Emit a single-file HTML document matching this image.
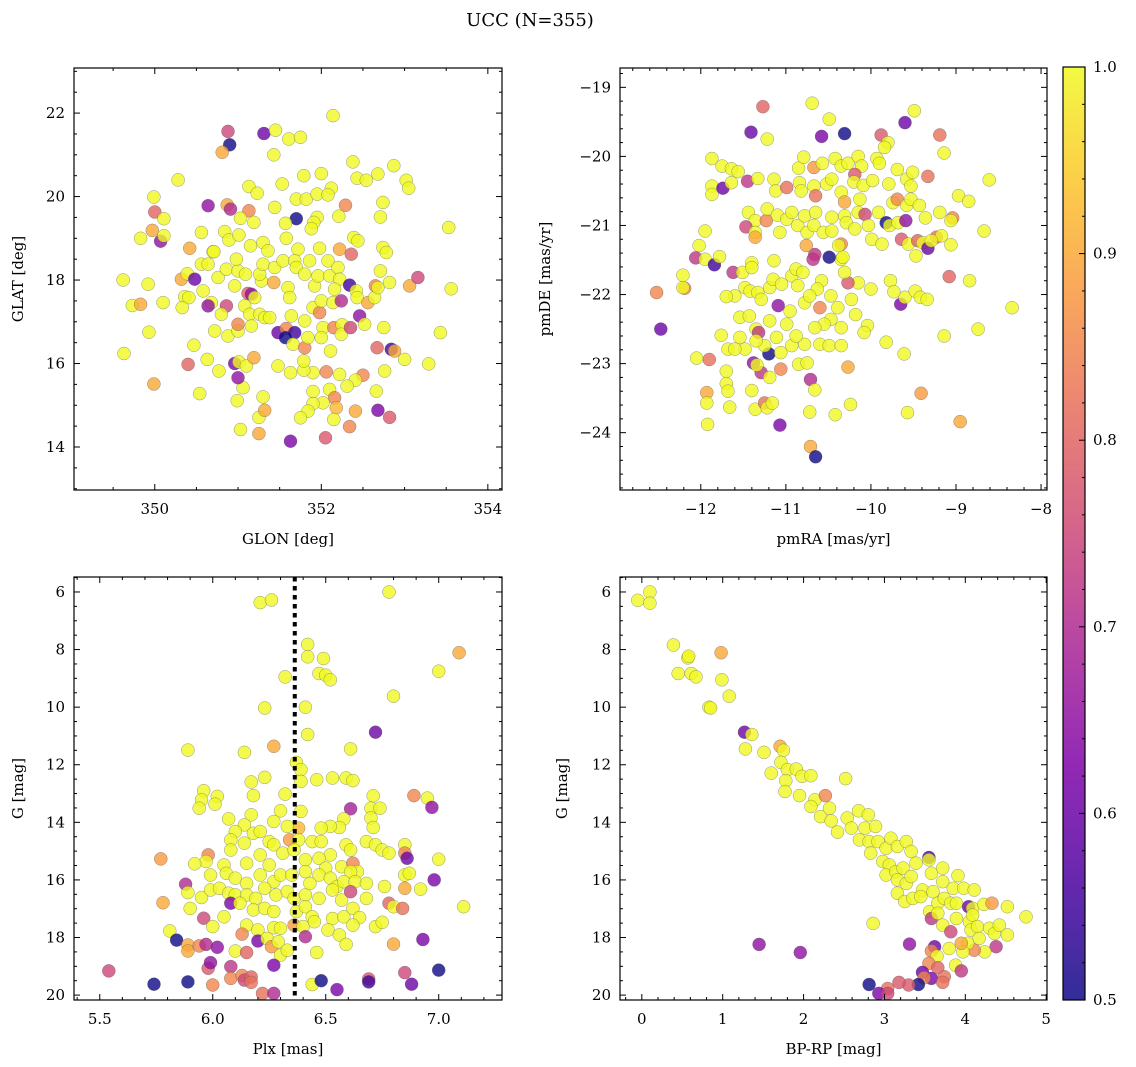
<!DOCTYPE html>
<html><head><meta charset="utf-8"><title>UCC (N=355)</title>
<style>
html,body{margin:0;padding:0;background:#fff;}
svg{display:block;font-family:"DejaVu Serif","Liberation Serif",serif;}
</style></head>
<body>
<svg id="fig" width="1136" height="1067" viewBox="0 0 1136 1067" xmlns="http://www.w3.org/2000/svg">
<text x="530" y="26" text-anchor="middle" font-size="18" fill="#000">UCC (N=355)</text>
</svg>
<script>
// ---------- Panel 1: GLON vs GLAT ----------
const glon1=[352.14,350.88,351.31,351.45,350.90,350.81,351.61,351.75,351.43,352.38,352.87,350.28,351.79,352.0,352.43,352.54,352.68,353.02,353.05,351.53,351.13,351.23,349.99,350.64,350.87,350.91,351.13,351.44,351.7,351.82,351.95,352.12,352.08,351.7,352.29,352.74,352.71,352.21,351.95,351.91,351.88,350.0,350.11,349.97,349.83,350.07,350.11,350.56,351.03,351.19,350.84,350.89,351.01,351.57,351.58,350.42,350.7,351.15,351.3,351.36,351.72,351.98,352.22,352.39,352.44,352.36,352.74,352.78,353.53,349.62,349.92,349.73,349.83,350.1,349.93,349.63,349.99,350.32,350.39,350.48,350.36,350.41,350.33,350.56,350.64,350.71,350.58,350.68,350.64,350.86,350.8,350.72,350.88,351.0,351.0,350.76,350.86,351.0,350.98,350.96,351.09,351.12,351.16,351.2,351.08,351.14,351.16,351.26,351.32,351.38,351.28,351.26,351.3,351.44,351.43,351.54,351.68,351.7,351.8,351.86,351.6,351.62,351.64,351.48,351.58,351.68,351.57,351.66,351.8,351.84,351.8,351.9,351.98,352.0,351.92,351.96,352.08,352.1,352.2,352.22,352.16,352.14,352.24,352.02,352.0,352.15,352.25,352.24,352.35,352.34,352.42,352.43,352.46,352.52,352.56,352.64,352.65,352.68,352.71,352.82,353.06,353.16,353.56,353.43,352.75,352.67,352.84,352.88,353.0,353.29,352.76,352.66,352.68,352.82,352.41,352.34,352.5,352.41,352.31,352.22,352.06,352.11,351.9,351.79,351.79,351.63,351.48,351.9,352.1,352.16,352.02,351.9,351.84,352.18,352.15,351.75,352.05,351.63,351.25,351.03,351.25,351.32,351.3,350.99,351.06,351.0,350.96,351.01,351.1,351.19,350.54,350.4,350.63,350.77,350.47];
const glat1=[21.94,21.56,21.51,21.59,21.24,21.06,21.38,21.42,21.0,20.83,20.74,20.4,20.5,20.55,20.44,20.39,20.54,20.39,20.2,20.3,20.24,20.08,19.99,19.78,19.8,19.7,19.66,19.74,19.94,19.94,20.06,20.2,20.04,19.47,19.79,19.86,19.51,19.53,19.5,19.38,19.23,19.63,19.47,19.19,19.0,18.93,19.06,19.14,19.48,19.38,19.16,18.96,19.08,19.36,19.0,18.76,18.68,18.82,18.9,18.7,18.74,18.76,18.74,19.02,18.94,18.62,18.78,18.66,19.26,18.0,17.9,17.39,17.42,17.46,16.75,16.24,15.51,18.02,18.15,18.02,17.6,17.58,17.34,18.38,18.38,18.68,17.74,17.46,17.38,17.38,17.18,16.78,16.66,16.78,16.94,18.06,18.26,18.22,18.5,17.86,18.14,17.68,17.66,17.58,17.38,17.18,16.9,17.18,17.1,17.1,17.98,18.14,18.38,18.3,17.94,18.46,18.46,18.3,18.14,18.46,17.82,17.58,17.14,16.74,16.84,16.74,16.62,16.46,16.38,16.62,17.02,17.34,17.22,17.5,17.86,18.1,18.46,18.1,18.3,18.02,17.78,17.46,17.5,16.86,16.62,16.86,16.93,16.7,16.86,17.88,17.74,17.58,17.14,16.94,17.46,17.58,17.86,17.82,18.22,17.94,17.86,18.06,17.79,16.74,16.86,16.38,16.34,16.3,16.1,15.99,15.82,15.34,14.88,14.71,14.86,14.49,15.72,15.6,15.46,15.74,15.8,16.3,15.78,15.84,16.06,15.78,15.94,15.33,15.38,15.18,15.06,15.04,14.86,14.94,14.66,14.7,14.22,14.14,14.32,14.42,14.71,14.88,15.2,15.11,15.42,15.66,16.0,16.04,15.94,16.14,15.28,15.98,16.1,15.82,16.44];
const prob1=[1,.75,.6,1,.5,.9,1,1,1,1,1,1,1,1,1,1,1,1,1,1,1,1,1,.65,.9,.7,.85,1,1,1,1,1,1,.5,.85,1,1,1,1,1,1,.8,1,.9,1,.65,1,1,1,1,1,1,1,1,1,.9,1,1,1,1,1,1,.9,1,1,.8,1,1,1,1,1,1,.9,1,1,1,.9,.9,1,.6,1,1,1,1,1,1,1,1,.65,.75,1,1,1,1,.85,1,1,1,1,1,1,.8,.65,1,1,1,1,1,1,1,1,1,1,1,.9,1,1,1,1,1,1,1,1,.6,.85,.55,.5,1,.85,1,1,1,.85,1,1,1,1,1,1,1,1,1,.7,1,1,.85,1,1,.75,.55,1,1,.65,1,.9,1,.85,1,1,1,.9,.75,1,1,1,.8,.55,.9,1,1,1,1,.62,.78,.9,.85,.85,1,1,1,.85,1,1,1,1,1,1,1,1,.85,1,1,1,.92,1,1,.78,.62,.9,1,1,.9,1,1,1,.65,.62,1,1,.9,1,.8,1,1];
// ---------- Panel 2: pmRA vs pmDE ----------
const pmra2=[-11.27,-10.69,-10.49,-9.49,-9.6,-11.41,-11.22,-10.58,-10.31,-9.88,-9.8,-9.84,-9.19,-9.14,-11.87,-11.75,-11.64,-11.56,-11.87,-11.87,-11.74,-11.64,-11.45,-11.33,-11.14,-11.12,-10.99,-10.85,-10.79,-10.67,-10.57,-10.42,-10.35,-10.27,-10.15,-10.11,-9.93,-9.9,-9.69,-10.19,-10.2,-10.09,-9.98,-9.79,-9.58,-9.51,-9.53,-9.33,-8.61,-8.97,-8.85,-10.84,-10.82,-10.67,-10.65,-10.52,-10.46,-10.35,-10.31,-10.13,-9.74,-9.69,-9.58,-9.53,-9.43,-9.36,-9.19,-9.04,-9.06,-8.67,-11.44,-11.36,-11.23,-11.47,-11.36,-11.36,-11.22,-11.1,-10.99,-11.07,-10.93,-10.86,-10.78,-10.75,-10.65,-10.67,-10.56,-10.46,-10.46,-10.35,-10.31,-10.29,-10.19,-10.15,-10.07,-10.03,-9.99,-9.91,-9.87,-9.82,-9.78,-9.68,-9.59,-9.64,-9.56,-9.45,-9.39,-9.33,-9.47,-9.23,-9.17,-9.29,-9.06,-11.95,-12.02,-12.06,-11.95,-11.84,-11.78,-12.21,-12.19,-12.21,-12.52,-12.47,-12.05,-11.9,-11.7,-11.7,-11.68,-11.93,-11.93,-11.92,-11.66,-11.4,-11.36,-11.25,-11.22,-11.16,-11.07,-11.38,-11.29,-11.34,-11.2,-11.19,-11.06,-11.06,-10.85,-10.75,-10.71,-10.66,-10.72,-10.71,-10.65,-10.42,-10.24,-10.27,-9.82,-9.61,-9.57,-9.41,-8.95,-9.14,-8.74,-8.34,-8.84,-9.08,-9.65,-9.6,-9.48,-9.42,-9.34,-9.77,-9.73,-10.0,-10.04,-10.08,-10.18,-10.23,-10.15,-10.27,-10.31,-10.35,-10.33,-10.38,-10.49,-10.66,-10.68,-10.76,-10.58,-10.63,-10.47,-10.6,-10.39,-10.47,-10.35,-10.55,-10.66,-10.6,-10.49,-10.35,-10.78,-10.93,-10.88,-10.99,-10.95,-11.09,-11.19,-11.11,-11.25,-11.35,-11.32,-11.35,-11.54,-11.43,-11.54,-11.76,-11.68,-11.48,-11.6,-11.6,-11.7,-11.62,-11.51,-11.4,-11.4,-11.48,-11.42,-11.33,-11.29,-11.19,-11.15,-11.14,-11.05,-10.93,-10.88,-10.8,-10.86,-10.78,-10.72];
const pmde2=[-19.28,-19.23,-19.46,-19.34,-19.51,-19.65,-19.75,-19.71,-19.67,-19.69,-19.8,-19.87,-19.69,-19.95,-20.03,-20.14,-20.18,-20.22,-20.43,-20.55,-20.46,-20.38,-20.36,-20.32,-20.33,-20.5,-20.45,-20.17,-20.01,-20.16,-20.1,-20.03,-20.14,-20.1,-20.0,-20.14,-20.03,-20.1,-20.19,-20.26,-20.37,-20.42,-20.35,-20.4,-20.33,-20.23,-20.43,-20.29,-20.34,-20.57,-20.65,-20.38,-20.5,-20.43,-20.57,-20.4,-20.33,-20.52,-20.66,-20.62,-20.67,-20.62,-20.71,-20.62,-20.71,-20.89,-20.81,-20.89,-20.93,-21.08,-20.81,-20.93,-20.93,-21.02,-21.1,-21.17,-20.76,-20.85,-20.91,-21.1,-20.81,-21.0,-20.86,-21.1,-20.81,-21.0,-21.1,-20.88,-21.08,-21.27,-20.86,-20.96,-21.05,-20.81,-20.84,-21.0,-21.2,-20.81,-21.27,-20.96,-21.0,-20.96,-20.93,-21.2,-21.27,-21.22,-21.25,-21.33,-21.44,-21.17,-21.15,-21.22,-21.28,-21.08,-21.29,-21.47,-21.49,-21.57,-21.45,-21.72,-21.91,-21.9,-21.97,-22.5,-22.92,-22.94,-23.11,-23.29,-23.4,-23.42,-23.57,-23.88,-23.63,-23.39,-23.66,-23.57,-23.64,-23.57,-23.89,-22.99,-23.13,-23.02,-22.86,-23.2,-23.08,-22.84,-23.01,-22.99,-23.23,-23.38,-23.7,-24.2,-24.35,-23.74,-23.59,-23.05,-22.69,-22.86,-23.71,-23.43,-23.84,-22.6,-22.5,-22.19,-21.8,-21.74,-22.14,-22.04,-21.95,-22.04,-22.07,-21.8,-21.96,-21.92,-22.45,-22.55,-22.29,-22.07,-21.83,-21.83,-21.68,-21.49,-21.46,-21.29,-21.46,-21.42,-21.49,-21.29,-21.8,-21.92,-22.02,-22.19,-22.19,-22.36,-22.48,-22.43,-22.48,-22.72,-22.74,-22.74,-22.72,-22.74,-22.6,-22.43,-22.24,-22.16,-22.38,-22.62,-22.74,-22.5,-22.55,-22.67,-22.33,-22.31,-22.62,-22.59,-22.79,-22.79,-22.79,-22.02,-22.03,-21.68,-21.68,-21.54,-21.61,-21.9,-21.95,-21.97,-22.07,-21.9,-21.78,-21.51,-21.85,-21.73,-21.63,-21.68,-21.87,-22.12,-22.02];
const prob2=[.8,1,1,1,.6,.6,1,.62,.5,.78,1,1,.82,1,1,1,1,1,1,1,.6,1,.72,1,1,1,.82,1,1,.88,1,1,1,1,1,1,1,1,1,.78,1,1,1,1,1,1,1,.82,1,1,1,1,1,1,.82,1,1,1,.9,1,1,.85,1,1,1,1,1,.85,1,1,1,1,.85,.75,1,.9,1,1,1,1,1,1,1,1,1,1,1,1,1,.85,1,1,1,1,.75,1,1,1,1,.5,1,1,.65,.78,1,.8,1,.6,1,.82,1,1,1,1,1,.72,1,.55,1,1,.85,1,.85,.6,1,.82,1,1,1,.9,1,1,1,1,1,.82,1,1,.62,.65,.72,1,.5,1,.85,1,1,1,.7,1,1,.9,.5,1,1,.9,1,1,1,.88,.9,1,1,1,1,.8,.62,1,1,1,1,1,1,1,1,1,1,1,1,.78,1,1,1,1,.5,.72,.72,.9,1,1,1,.85,1,1,1,1,1,1,1,1,1,1,1,1,1,.65,1,1,1,1,.72,1,1,1,1,1,1,1,1,1,1,.72,1,1,1,1,1,1,1,1,1,1,1,1,1,1,1,1,1,1];
// ---------- Panel 3: Plx vs G ----------
const plx3=[6.21,6.26,6.78,7.09,7.0,6.8,6.42,6.42,6.49,6.47,6.5,6.52,6.32,6.23,6.41,6.42,6.72,5.89,6.14,6.27,6.61,6.37,6.39,6.39,6.46,6.53,6.59,6.62,6.23,6.17,6.18,6.32,5.96,5.95,5.94,6.02,6.01,6.89,6.95,6.97,6.61,6.71,6.7,6.74,6.7,6.71,6.58,6.56,6.52,6.48,6.39,6.38,6.3,6.33,6.27,6.17,6.07,6.14,6.1,6.08,6.14,6.18,6.21,6.25,6.27,6.34,6.38,6.44,6.48,6.52,6.59,6.61,6.68,6.72,6.75,6.78,6.85,6.85,6.86,7.0,5.77,5.98,5.97,5.92,6.08,6.05,6.15,6.21,6.25,6.31,6.36,6.41,6.47,6.5,6.57,6.62,6.64,6.61,5.99,6.06,6.1,6.15,6.21,6.27,6.3,6.35,6.41,6.47,6.52,6.55,6.58,6.63,6.68,6.85,6.87,6.98,5.88,5.89,5.78,5.9,5.95,5.99,6.03,6.07,6.1,6.15,6.19,6.23,6.28,6.33,6.36,6.41,6.43,6.47,6.53,6.57,6.61,6.68,6.76,6.78,6.8,6.84,6.85,6.92,7.11,6.08,6.12,6.18,6.23,6.27,6.37,6.41,6.44,6.53,6.58,6.62,6.65,5.96,6.0,6.05,6.15,6.2,6.27,6.3,6.36,6.4,6.45,6.51,6.56,6.62,6.72,6.75,5.81,5.84,5.89,5.89,5.94,5.97,6.02,6.1,6.13,6.15,6.2,6.24,6.26,6.29,6.3,6.33,6.41,6.46,6.59,6.8,6.93,5.54,5.74,5.89,5.98,5.99,6.0,6.08,6.08,6.13,6.14,6.17,6.17,6.22,6.27,6.27,6.44,6.48,6.55,6.69,6.69,6.85,6.88,7.0];
const gmag3=[6.37,6.28,6.0,8.11,8.75,9.62,7.82,8.25,8.31,8.83,8.89,9.05,8.95,10.03,10.0,10.95,10.87,11.49,11.57,11.36,11.45,11.92,12.17,12.58,12.52,12.46,12.46,12.55,12.44,12.6,13.07,13.02,12.9,13.22,13.51,13.1,13.37,13.07,13.16,13.48,13.53,13.08,13.51,13.51,13.85,14.18,13.88,14.18,14.14,14.2,13.62,14.2,13.6,14.14,13.97,13.74,13.88,14.09,14.32,14.61,14.72,14.38,14.32,14.67,14.78,14.61,14.61,14.67,14.67,15.13,14.78,14.96,14.67,14.78,14.96,15.07,14.78,15.07,15.25,15.28,15.27,15.13,15.36,15.44,14.96,15.48,15.42,15.13,15.48,15.07,14.96,15.3,15.25,15.59,15.54,15.42,15.71,15.71,15.83,15.77,15.94,16.12,15.83,16.06,15.83,15.83,15.71,15.83,15.94,16.23,16.06,16.06,16.12,15.83,15.77,16.0,16.15,16.44,16.79,16.99,16.61,16.35,16.29,16.46,16.52,16.52,16.64,16.29,16.52,16.41,16.64,16.52,16.12,16.64,16.35,16.7,16.41,16.64,16.23,16.81,16.93,16.99,16.29,16.32,16.93,16.81,16.81,17.04,16.99,17.1,17.1,16.93,17.28,17.34,17.28,16.99,17.31,17.33,17.62,17.28,17.57,17.74,17.66,17.68,17.57,17.62,17.45,17.74,17.91,17.57,17.62,17.47,17.77,18.09,18.26,18.47,18.29,18.24,18.34,18.47,17.88,18.52,18.12,18.03,18.32,18.15,18.61,18.44,17.97,18.52,18.24,18.23,18.07,19.16,19.62,19.54,19.07,18.87,19.65,19.01,19.42,19.32,19.48,19.37,19.56,19.94,19.94,18.96,19.63,19.5,19.81,19.44,19.54,19.22,19.62,19.13];
const prob3=[1,1,1,.9,1,1,1,1,1,1,1,1,1,1,1,1,.6,1,1,.9,1,1,1,1,1,1,1,1,1,1,1,1,1,1,1,1,1,.85,1,.65,.68,1,1,1,1,1,1,1,1,1,1,.92,1,1,1,1,1,1,1,1,1,1,1,1,1,.88,1,1,1,1,1,1,1,1,1,1,1,.85,.6,1,.88,.85,1,1,1,1,1,1,1,1,1,1,1,1,1,.85,1,1,1,1,1,1,1,1,1,1,1,1,1,1,1,1,1,1,1,.62,.7,1,.9,1,1,1,1,1,1,1,1,1,1,1,1,1,1,1,1,1,.75,1,1,.8,1,.82,.9,1,1,.62,1,1,1,1,1,1,1,1,1,1,1,.75,1,1,1,1,1,1,.88,1,1,1,1,1,1,1,1,.5,.9,.9,.85,.7,.65,1,.85,.8,.62,1,.88,1,1,1,.7,1,1,.9,.62,.75,.5,.5,.78,.65,.85,.72,.85,.85,.75,.8,.82,.82,.7,.62,1,.5,.62,.78,.55,.75,.6,.5,.72];
// ---------- Panel 4: BP-RP vs G ----------
const bprp4=[-0.05,0.1,0.1,0.39,0.57,0.58,0.45,0.61,0.67,0.98,0.99,1.08,0.83,0.85,1.27,1.36,1.28,1.51,1.71,1.75,1.72,1.6,1.8,1.91,1.98,2.09,1.78,1.77,2.52,1.95,2.14,2.27,2.09,2.21,2.32,2.34,2.42,2.54,2.68,2.8,2.59,2.69,2.76,2.89,2.81,2.92,3.02,3.08,3.16,3.27,2.83,2.98,3.06,3.02,3.14,3.23,3.33,3.39,3.55,3.55,3.58,3.72,3.91,3.16,3.27,3.33,3.47,3.6,3.72,3.85,3.98,4.11,3.16,3.25,3.35,3.45,3.56,3.58,3.66,3.74,3.82,3.89,4.04,4.09,4.23,4.33,4.52,4.75,2.86,3.66,3.72,3.82,3.89,4.05,4.09,4.07,4.15,4.17,4.3,4.36,4.38,4.52,4.42,4.24,4.11,4.03,3.97,3.95,3.8,1.45,1.96,3.31,3.62,3.58,3.65,3.55,3.66,3.88,3.95,3.47,3.58,3.49,3.74,3.72,3.42,3.3,3.18,3.04,2.93,3.04,2.81];
const gmag4=[6.29,6.0,6.39,7.84,8.29,8.23,8.83,8.83,8.95,8.11,9.05,9.62,10.0,10.03,10.87,10.95,11.45,11.57,11.36,11.5,11.92,12.29,12.17,12.15,12.4,12.38,12.55,12.93,12.48,13.07,13.22,13.07,13.45,13.8,13.51,13.95,14.34,13.85,13.6,13.74,14.2,14.61,14.2,14.14,14.67,14.67,14.9,14.55,14.84,14.67,15.07,15.36,15.48,15.83,15.71,15.59,15.01,15.42,15.22,15.3,15.77,15.59,15.85,16.0,16.12,15.88,16.35,16.41,16.06,16.29,16.29,16.35,16.46,16.75,16.64,16.58,17.1,17.34,16.81,16.64,16.81,16.81,16.93,16.99,16.85,16.81,16.93,17.28,17.51,17.16,17.57,17.8,17.34,17.45,17.22,17.74,17.62,18.03,17.68,17.86,18.32,17.91,17.57,18.5,18.44,18.2,18.5,18.2,18.38,18.24,18.52,18.23,18.32,18.47,18.65,18.9,19.05,18.96,19.16,19.21,19.42,19.4,19.36,19.56,19.63,19.65,19.56,19.77,19.94,19.94,19.63];
const prob4=[1,1,1,1,1,1,1,1,1,.9,1,1,1,1,.6,1,1,1,.9,1,1,1,1,1,1,1,1,1,1,1,1,.85,1,1,1,1,1,1,1,1,1,1,1,1,1,1,1,1,1,1,1,1,1,1,1,1,1,1,.55,1,1,1,1,1,1,1,1,1,1,1,1,1,1,1,1,1,1,.72,1,1,1,1,.6,1,1,.88,1,1,1,1,1,.75,1,1,1,1,1,1,1,1,.72,1,1,1,.85,1,1,.9,1,.65,.65,.65,.6,.85,1,.85,.8,1,.72,.6,.62,.85,.82,.82,.5,.78,.78,.82,.62,.75,.5];
// ---------- Tick labels ----------
const xt1=[350,352,354], yt1=[14,16,18,20,22];
const xt2=[-12,-11,-10,-9,-8], yt2=[-24,-23,-22,-21,-20,-19];
const xt3=[5.5,6.0,6.5,7.0], yt3=[6,8,10,12,14,16,18,20];
const xt4=[0,1,2,3,4,5], yt4=[6,8,10,12,14,16,18,20];
const cbTicks=[0.5,0.6,0.7,0.8,0.9,1.0];
const plxLine=6.363;

const NS="http://www.w3.org/2000/svg";
const svg=document.getElementById('fig');
function el(tag,attrs,parent){const e=document.createElementNS(NS,tag);for(const k in attrs)e.setAttribute(k,attrs[k]);(parent||svg).appendChild(e);return e;}
const stops=[[0,[13,8,135]],[0.125,[76,2,161]],[0.25,[126,3,168]],[0.375,[168,34,150]],[0.5,[204,71,120]],[0.625,[229,107,93]],[0.75,[248,149,64]],[0.875,[253,195,40]],[1,[240,249,33]]];
function plasma(v){let t=Math.max(0,Math.min(1,(v-0.5)/0.5));for(let i=1;i<stops.length;i++){if(t<=stops[i][0]){const a=stops[i-1],b=stops[i],f=(t-a[0])/(b[0]-a[0]);const c=a[1].map((x,j)=>Math.round(x+(b[1][j]-x)*f));return `rgb(${c[0]},${c[1]},${c[2]})`;}}return 'rgb(240,249,33)';}
function fmt(v,dec){const s=v.toFixed(dec);return v<0?'\u2212'+s.slice(1):s;}

function panel(o){
  const g=el('g',{});
  
  
  const X=v=>o.x0+(v-o.xmin)/(o.xmax-o.xmin)*(o.x1-o.x0);
  const Y=o.invert? (v=>o.y0+(v-o.ymin)/(o.ymax-o.ymin)*(o.y1-o.y0)) : (v=>o.y1-(v-o.ymin)/(o.ymax-o.ymin)*(o.y1-o.y0));
  const clip=el('clipPath',{id:'c'+o.name},g);
  el('rect',{x:o.x0,y:o.y0,width:o.x1-o.x0,height:o.y1-o.y0},clip);
  const pts=el('g',{'clip-path':`url(#c${o.name})`},g);
  
  
  // draw low probability later? matplotlib draws in order; sort so yellow on top-ish mixture
  for(let i=0;i<o.xs.length;i++){
    const c=el('circle',{cx:X(o.xs[i]).toFixed(1),cy:Y(o.ys[i]).toFixed(1),r:6.5,fill:plasma(o.cs[i]),'fill-opacity':0.8,stroke:'#555','stroke-width':0.5,'stroke-opacity':0.6},pts);
    
    
  }
  if(o.vline!==undefined){
    const l=el('line',{x1:X(o.vline),x2:X(o.vline),y1:o.y0,y2:o.y1,stroke:'#000','stroke-width':4,'stroke-dasharray':'4.5,4.5'},g);
    
    
  }
  // ticks
  const tk=el('g',{stroke:'#000','stroke-width':1},g);
  
  
  const eps=1e-6;
  for(let v=Math.ceil(o.xmin/o.xminor)*o.xminor; v<=o.xmax+eps; v+=o.xminor){
    const major=Math.abs(v/o.xmajor-Math.round(v/o.xmajor))<1e-4; const L=major?6:3; const px=X(v);
    el('line',{x1:px,x2:px,y1:o.y1,y2:o.y1-L},tk); el('line',{x1:px,x2:px,y1:o.y0,y2:o.y0+L},tk);
  }
  for(let v=Math.ceil(o.ymin/o.yminor)*o.yminor; v<=o.ymax+eps; v+=o.yminor){
    const major=Math.abs(v/o.ymajor-Math.round(v/o.ymajor))<1e-4; const L=major?6:3; const py=Y(v);
    el('line',{x1:o.x0,x2:o.x0+L,y1:py,y2:py},tk); el('line',{x1:o.x1,x2:o.x1-L,y1:py,y2:py},tk);
  }
  const fr=el('rect',{x:o.x0,y:o.y0,width:o.x1-o.x0,height:o.y1-o.y0,fill:'none',stroke:'#000','stroke-width':1.2},g);
  
  
  for(const v of o.xt){const t=el('text',{x:X(v),y:o.y1+24,'text-anchor':'middle','font-size':15},g);t.textContent=fmt(v,o.xdec);
    }
  for(const v of o.yt){const t=el('text',{x:o.x0-9,y:Y(v)+5,'text-anchor':'end','font-size':15},g);t.textContent=fmt(v,o.ydec);
    }
  const xl=el('text',{x:(o.x0+o.x1)/2,y:o.y1+54,'text-anchor':'middle','font-size':15},g);xl.textContent=o.xlabel;
  
  const yx=o.ylx, yy=(o.y0+o.y1)/2;
  const yl=el('text',{x:yx,y:yy,'text-anchor':'middle','font-size':15,transform:`rotate(-90 ${yx} ${yy})`},g);yl.textContent=o.ylabel;
  
}
panel({name:'glon-glat-panel',x0:74,x1:502,y0:68,y1:490,xmin:349.03,xmax:354.17,ymin:12.97,ymax:23.08,xs:glon1,ys:glat1,cs:prob1,xt:xt1,yt:yt1,xdec:0,ydec:0,xmajor:2,xminor:0.5,ymajor:2,yminor:0.5,xlabel:'GLON [deg]',ylabel:'GLAT [deg]',ylx:23});
panel({name:'pm-panel',x0:620,x1:1047,y0:68,y1:490,xmin:-12.95,xmax:-7.93,ymin:-24.83,ymax:-18.72,xs:pmra2,ys:pmde2,cs:prob2,xt:xt2,yt:yt2,xdec:0,ydec:0,xmajor:1,xminor:0.2,ymajor:1,yminor:0.2,xlabel:'pmRA [mas/yr]',ylabel:'pmDE [mas/yr]',ylx:550});
panel({name:'plx-g-panel',x0:74,x1:502,y0:577,y1:1000,xmin:5.386,xmax:7.28,ymin:5.48,ymax:20.17,invert:true,xs:plx3,ys:gmag3,cs:prob3,xt:xt3,yt:yt3,xdec:1,ydec:0,xmajor:0.5,xminor:0.1,ymajor:2,yminor:0.5,xlabel:'Plx [mas]',ylabel:'G [mag]',ylx:23,vline:plxLine});
panel({name:'cmd-panel',x0:620,x1:1047,y0:577,y1:1000,xmin:-0.27,xmax:5.01,ymin:5.48,ymax:20.17,invert:true,xs:bprp4,ys:gmag4,cs:prob4,xt:xt4,yt:yt4,xdec:0,ydec:0,xmajor:1,xminor:0.2,ymajor:2,yminor:0.5,xlabel:'BP-RP [mag]',ylabel:'G [mag]',ylx:567});

// ---------- Colorbar ----------
const cb=el('g',{});


const defs=el('defs',{},cb);
const lg=el('linearGradient',{id:'cbg',x1:0,y1:1,x2:0,y2:0},defs);
for(let i=0;i<=20;i++){el('stop',{offset:i/20,'stop-color':plasma(0.5+i/40),'stop-opacity':0.85},lg);}
const cbx0=1063,cbx1=1085,cby0=67,cby1=1000;
el('rect',{x:cbx0,y:cby0,width:cbx1-cbx0,height:cby1-cby0,fill:'url(#cbg)',stroke:'#000','stroke-width':1.2},cb);
const CY=v=>cby1-(v-0.5)/0.5*(cby1-cby0);
for(let k=0;k<=25;k++){const v=0.5+k*0.02;const major=k%5===0;const L=major?6:3;
  el('line',{x1:cbx1,x2:cbx1-L,y1:CY(v),y2:CY(v),stroke:'#000','stroke-width':1},cb);}
for(const v of cbTicks){const t=el('text',{x:cbx1+8,y:CY(v)+5,'font-size':15},cb);t.textContent=v.toFixed(1);
  }
</script>
</body></html>
